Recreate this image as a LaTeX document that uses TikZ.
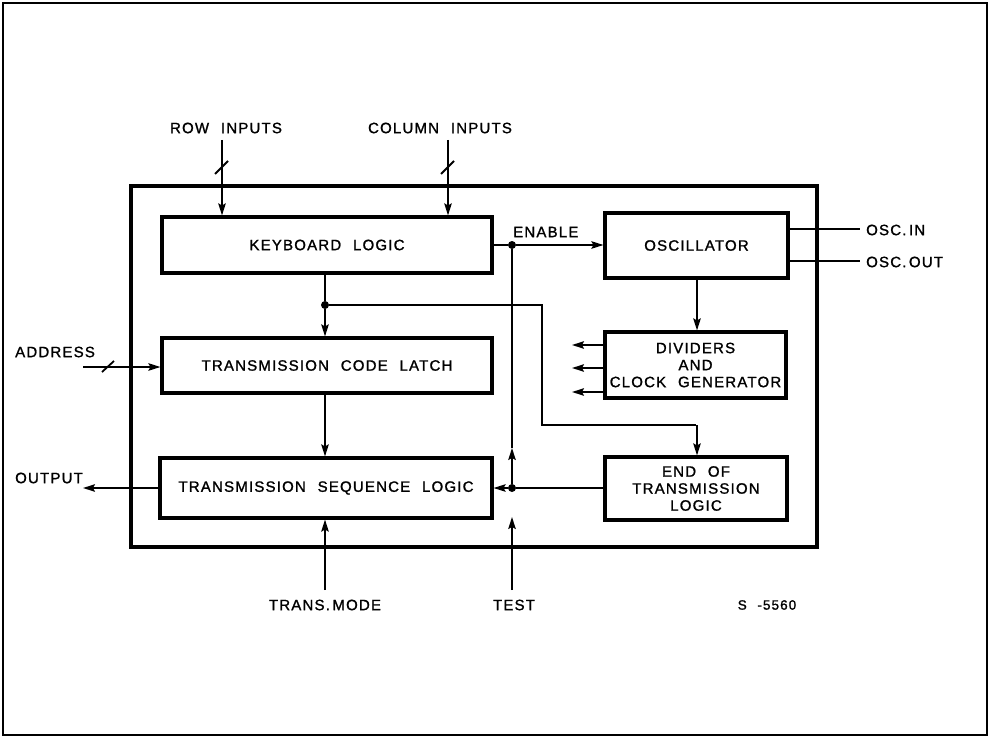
\documentclass[tikz,border=0pt]{standalone}
\usepackage{fontspec}
\setmainfont{Liberation Sans}[LetterSpace=8,WordSpace=2.2,FakeBold=1.3]
\usetikzlibrary{arrows.meta,calc}
\begin{document}
\begin{tikzpicture}[x=1pt,y=-1pt,
  blk/.style={draw,line width=3.2pt,inner sep=0pt,align=center,font=\fontsize{15}{19}\selectfont},
  lbl/.style={inner sep=0pt,font=\fontsize{15}{19}\selectfont},
  wire/.style={line width=1.6pt},
  arr/.style={wire,-{Stealth[length=12pt,width=7.5pt,inset=2pt]}},
  dot/.style={circle,fill,inner sep=0pt,minimum size=8pt}]
\useasboundingbox (0,0) rectangle (990,738);
% page frame and chip outline
\draw[line width=2pt] (3,3) rectangle (987,735);
\draw[line width=3.2pt] (131,186) rectangle (817,547);
% blocks
\node[blk,minimum width=330pt,minimum height=56pt] (kl) at (327,245) {KEYBOARD LOGIC};
\node[blk,minimum width=330pt,minimum height=55pt] (tcl) at (327,365.5) {TRANSMISSION CODE LATCH};
\node[blk,minimum width=332pt,minimum height=60pt] (tsl) at (326,488) {TRANSMISSION SEQUENCE LOGIC};
\node[blk,minimum width=183pt,minimum height=65pt] (osc) at (696.5,245.5) {OSCILLATOR};
\node[blk,minimum width=181pt,minimum height=66pt,font=\fontsize{15}{17}\selectfont] (div) at (695.5,365) {DIVIDERS\\AND\\CLOCK GENERATOR};
\node[blk,minimum width=182pt,minimum height=63pt,font=\fontsize{15}{17}\selectfont] (eot) at (696,488.5) {END OF\\TRANSMISSION\\LOGIC};
% labels
\node[lbl] (rowl) at (226,128) {ROW INPUTS};
\node[lbl] (coll) at (440,128) {COLUMN INPUTS};
\node[lbl,anchor=west] (enl) at (513,232) {ENABLE};
\node[lbl,anchor=west] (oscinl) at (866,230) {OSC.\,IN};
\node[lbl,anchor=west] (oscoutl) at (866,262) {OSC.\,OUT};
\node[lbl,anchor=west] (addrl) at (15,352) {ADDRESS};
\node[lbl,anchor=west] (outl) at (15,478) {OUTPUT};
\node[lbl] (model) at (325,605) {TRANS.\,MODE};
\node[lbl] (testl) at (514,605) {TEST};
\node[lbl,font=\fontsize{13.5}{15}\selectfont] (snum) at (767,605) {S -5560};
% coordinates
\coordinate (rowin) at (222,140);
\coordinate (colin) at (448,140);
\node[dot] (en) at (512,245) {};
\node[dot] (kd) at (325,305) {};
\node[dot] (jt) at (512,488) {};
\coordinate (addrin) at (83,367);
\coordinate (outend) at (83,488);
\coordinate (modein) at (325,590);
\coordinate (testin) at (512,590);
\coordinate (testend) at (512,517);
\coordinate (midup) at (512,448);
\coordinate (oscin) at (860,229);
\coordinate (oscout) at (860,261);
\coordinate (bend1) at (542,305);
\coordinate (bend2) at (542,425);
\coordinate (d1) at (572,345);
\coordinate (d2) at (572,368);
\coordinate (d3) at (572,392);
% inputs
\draw[arr] (rowin) -- (rowin |- kl.north);
\draw[arr] (colin) -- (colin |- kl.north);
\draw[line width=1.8pt] ($(rowin)+(-7,34)$) -- ($(rowin)+(6,21)$);
\draw[line width=1.8pt] ($(colin)+(-7,34)$) -- ($(colin)+(6,21)$);
\draw[arr] (addrin) -- (tcl.west |- addrin);
\draw[line width=1.8pt] (102,372) -- (114,361);
% enable
\draw[wire] (kl.east |- en) -- (en);
\draw[arr] (en) -- (osc.west |- en);
\draw[wire] ($(osc.east)+(0,-16.5)$) -- (oscin);
\draw[wire] ($(osc.east)+(0,15.5)$) -- (oscout);
\draw[arr] (osc.south -| 697,0) -- (div.north -| 697,0);
\draw[arr] (div.west |- d1) -- (d1);
\draw[arr] (div.west |- d2) -- (d2);
\draw[arr] (div.west |- d3) -- (d3);
% keyboard to latch
\draw[wire] (kl.south -| kd) -- (kd);
\draw[arr] (kd) -- (tcl.north -| kd);
\draw[wire] (kd) -- (bend1) -- (bend2) -- (bend2 -| eot.north);
\draw[arr] (bend2 -| 697,0) -- (eot.north -| 697,0);
\draw[arr] (tcl.south -| kd) -- (tsl.north -| kd);
% end of transmission
\draw[wire] (eot.west |- jt) -- (jt);
\draw[arr] (jt) -- (tsl.east |- jt);
\draw[arr] (jt) -- (midup);
\draw[wire] (midup) -- (en);
\draw[arr] (testin) -- (testend);
\draw[arr] (modein) -- (tsl.south -| modein);
\draw[arr] (tsl.west |- outend) -- (outend);
\end{tikzpicture}
\end{document}
